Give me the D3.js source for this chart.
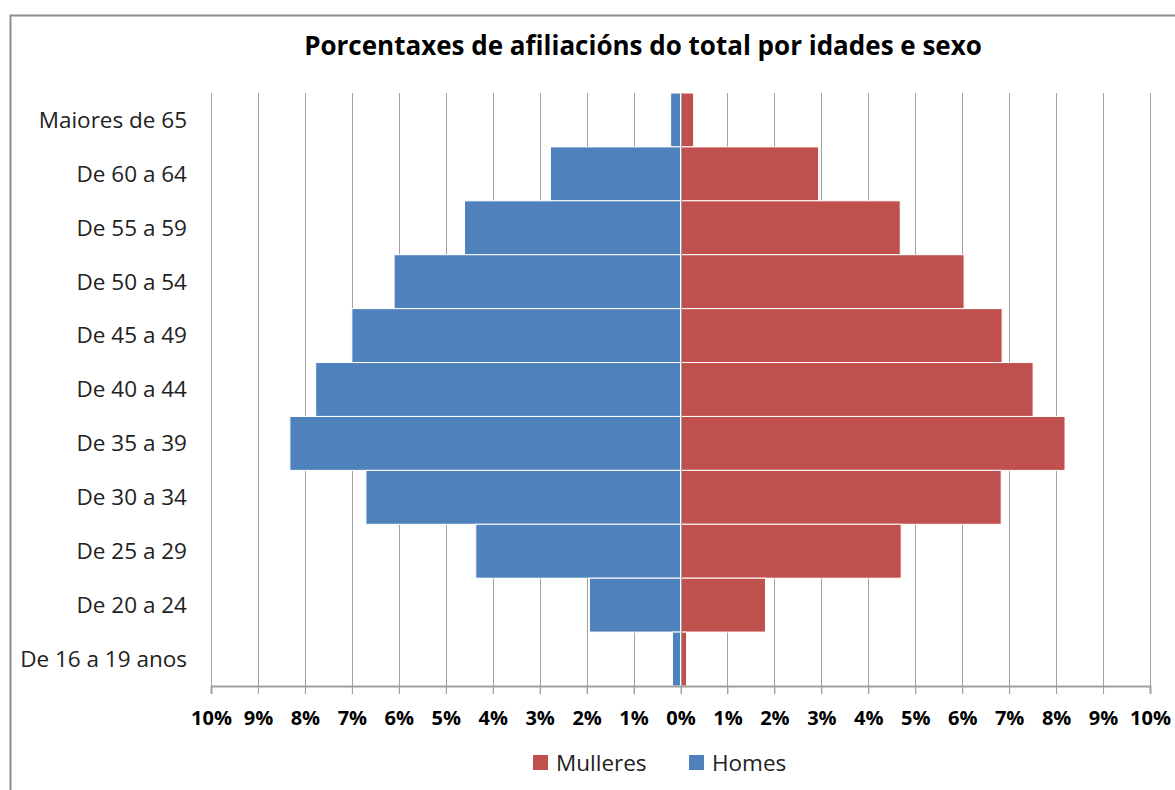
<!DOCTYPE html>
<html lang="gl">
<head>
    <meta charset="UTF-8">
    <script src="https://d3js.org/d3.v7.min.js"></script>
    <style>
        body { margin: 0; background: #fff; }
        text { font-family: "Open Sans", "Liberation Sans", sans-serif; }
    </style>
</head>
<body>
    <svg id="chart" width="1175" height="790"></svg>
    <script>
        // Datos (porcentaxes do total)
        const idades = ["Maiores de 65", "De 60 a 64", "De 55 a 59", "De 50 a 54", "De 45 a 49",
            "De 40 a 44", "De 35 a 39", "De 30 a 34", "De 25 a 29", "De 20 a 24", "De 16 a 19 anos"];
        const homes = [0.21, 2.77, 4.6, 6.1, 7.0, 7.77, 8.32, 6.7, 4.36, 1.94, 0.17];
        const mulleres = [0.28, 2.94, 4.68, 6.04, 6.85, 7.51, 8.19, 6.83, 4.7, 1.81, 0.13];
        const ticks = d3.range(-10, 11, 1);

        const width = 1175, height = 790;
        const margin = { top: 93, right: 25, bottom: 104, left: 211 };

        const svg = d3.select("#chart");

        // Marco do gráfico
        svg.append("rect")
            .attr("x", 10.5).attr("y", 15.5)
            .attr("width", 1200).attr("height", 800)
            .attr("fill", "none")
            .attr("stroke", "#8c8c8c")
            .attr("stroke-width", 2);

        svg.append("text")
            .attr("x", 643)
            .attr("y", 55)
            .attr("text-anchor", "middle")
            .style("font-size", "26px")
            .style("font-weight", "bold")
            .text("Porcentaxes de afiliacións do total por idades e sexo");

        const x = d3.scaleLinear()
            .domain([-10, 10])
            .range([margin.left, width - margin.right]);

        const y = d3.scaleBand()
            .domain(idades)
            .range([margin.top, height - margin.bottom])
            .padding(0);

        // Liñas de grade
        svg.append("g")
            .selectAll("line")
            .data(ticks)
            .enter().append("line")
            .attr("x1", d => Math.round(x(d)) + 0.5)
            .attr("x2", d => Math.round(x(d)) + 0.5)
            .attr("y1", margin.top)
            .attr("y2", height - margin.bottom + 8)
            .attr("stroke", "#a0a0a0")
            .attr("stroke-width", 1);

        const dados = idades.map((d, i) => ({ idade: d, h: homes[i], m: mulleres[i] }));

        // Homes (á esquerda)
        svg.append("g")
            .selectAll("rect")
            .data(dados)
            .enter().append("rect")
            .attr("x", d => x(-d.h))
            .attr("y", d => y(d.idade))
            .attr("width", d => x(0) - x(-d.h))
            .attr("height", y.bandwidth())
            .attr("fill", "#4f81bd")
            .attr("stroke", "#fff")
            .attr("stroke-width", 1);

        // Mulleres (á dereita)
        svg.append("g")
            .selectAll("rect")
            .data(dados)
            .enter().append("rect")
            .attr("x", x(0))
            .attr("y", d => y(d.idade))
            .attr("width", d => x(d.m) - x(0))
            .attr("height", y.bandwidth())
            .attr("fill", "#c0504d")
            .attr("stroke", "#fff")
            .attr("stroke-width", 1);

        // Eixo central
        svg.append("line")
            .attr("x1", Math.round(x(0)) + 0.5).attr("x2", Math.round(x(0)) + 0.5)
            .attr("y1", margin.top).attr("y2", height - margin.bottom)
            .attr("stroke", "#a0a0a0");

        // Eixo X
        const xAxis = svg.append("g")
            .attr("transform", `translate(0,${height - margin.bottom})`)
            .call(d3.axisBottom(x).tickValues(ticks).tickSize(8).tickFormat(d => Math.abs(d) + "%"));
        xAxis.select(".domain").attr("stroke", "#a0a0a0").attr("stroke-width", 2);
        xAxis.selectAll(".tick line").attr("stroke", "#a0a0a0");
        xAxis.selectAll("text")
            .attr("y", 25)
            .attr("fill", "#000")
            .style("font-size", "20px")
            .style("font-weight", "bold")
            .style("font-family", "'Open Sans', sans-serif");

        // Etiquetas de idade
        svg.append("g")
            .selectAll("text")
            .data(idades)
            .enter().append("text")
            .attr("x", 187)
            .attr("y", d => y(d) + y.bandwidth() / 2)
            .attr("dy", "0.35em")
            .attr("text-anchor", "end")
            .style("font-size", "22.5px")
            .attr("fill", "#222")
            .text(d => d);

        // Lenda
        const lenda = [{ nome: "Mulleres", cor: "#c0504d", x: 533 }, { nome: "Homes", cor: "#4f81bd", x: 689 }];
        const lg = svg.append("g").selectAll("g").data(lenda).enter().append("g")
            .attr("transform", d => `translate(${d.x},755)`);
        lg.append("rect").attr("width", 15).attr("height", 15).attr("fill", d => d.cor);
        lg.append("text")
            .attr("x", 23).attr("y", 8).attr("dy", "0.35em")
            .style("font-size", "22.5px")
            .attr("fill", "#222")
            .text(d => d.nome);
    </script>
</body>
</html>
